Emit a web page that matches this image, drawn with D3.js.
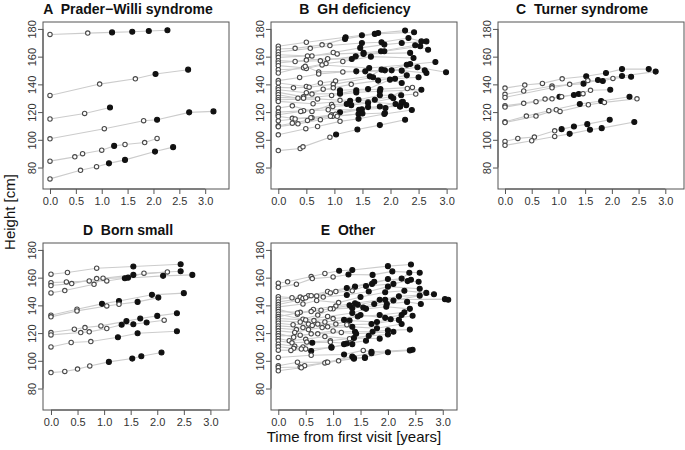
<!DOCTYPE html>
<html>
<head>
<meta charset="utf-8">
<script src="https://cdn.jsdelivr.net/npm/d3@7"></script>
<style>
  body { margin: 0; background: #fff; }
  svg { font-family: "Liberation Sans", Arial, sans-serif; }
</style>
</head>
<body>
<div id="chart"></div>
<script>
// each subject: list of [years from first visit, height cm, filled (1) / open (0)]
const subjectsA = [
  [[0,176,0],[0.73,177,0],[1.2,177.5,1],[1.59,178,1],[1.91,178.5,1],[2.27,179,1]],
  [[0,132,0],[0.96,140.2,0],[1.65,144,0],[2.04,147.5,1],[2.67,150.6,1]],
  [[0,115,0],[0.67,119,0],[1.16,123.3,1]],
  [[0,100.7,0],[1.05,108,0],[1.81,113.8,0],[2.07,114.5,1],[2.69,119.8,1],[3.16,120.5,1]],
  [[0,84.6,0],[0.48,87.7,0],[0.63,90,0],[1.0,92.5,0],[1.24,95.6,1],[1.45,96.6,0],[1.83,98,0],[2.07,101,0]],
  [[0,71.8,0],[0.59,78,0],[0.9,80.6,0],[1.14,83,1],[1.45,85.5,1],[2.03,91.5,1],[2.38,94.7,1]]
];

const subjectsB = [
  [[0,167.5,0],[0.5,170.4,0],[1.2,174,1],[1.49,175.4,1],[1.78,177.1,1],[2.26,178.8,1]],
  [[0,165.5,0],[0.3,166,0],[0.78,168.5,0],[1.19,172.8,1],[1.72,176.4,1],[2.42,177.6,1]],
  [[0,163.4,0],[0.57,166,0],[0.92,168,0],[1.49,169.9,1],[1.84,170.4,1],[2.32,173.5,1],[2.55,171,1]],
  [[0,161.4,0],[0.6,160.5,0],[0.98,163,0],[1.46,166.3,1],[1.89,168.7,1],[2.2,169.9,1],[2.64,171,1]],
  [[0,159.5,0],[0.52,160.5,0],[1.05,162,0],[1.52,162.7,1],[1.83,163.9,1],[2.44,168.2,1],[2.67,165,1]],
  [[0,157.1,0],[0.3,156.5,0],[0.75,157,0],[1.38,160.2,1],[1.89,163.9,1],[2.53,167.5,1]],
  [[0,155.4,0],[0.5,157.5,0],[0.88,158.5,0],[1.31,158.3,1],[1.52,162,1],[2.35,162.7,1]],
  [[0,153.5,0],[0.45,152,0],[0.85,155,0],[1.15,156.5,0],[1.65,160,1],[2.41,159,1]],
  [[0,150.6,0],[0.5,151.5,0],[0.78,154,0],[1.62,151.8,1],[2.29,154.2,1],[2.8,156.1,1]],
  [[0,148.2,0],[0.48,153,0],[0.72,149,0],[1.39,149.4,1],[1.9,150.1,1],[2.35,154.7,1],[2.61,150.1,1]],
  [[0,142.7,0],[0.38,145,0],[0.72,147.5,0],[1.15,149,0],[1.55,149.4,1],[2.02,150.1,1],[2.48,152.3,1],[2.99,148.7,1]],
  [[0,141,0],[0.5,138.5,0],[0.75,141,0],[1.02,142.5,0],[1.63,145.8,1],[1.84,150.6,1],[2.2,149.9,1],[2.64,148.2,1]],
  [[0,137.8,0],[0.27,137.5,0],[0.55,138,0],[0.98,140,0],[1.69,145.1,1],[2.08,144.1,1],[2.5,145.1,1]],
  [[0,136.1,0],[0.5,134,0],[0.98,137.5,0],[1.3,140,0],[1.78,142.7,1],[2.29,146.5,1]],
  [[0,134.2,0],[0.45,131,0],[0.8,136.5,0],[1.1,135.7,1],[1.6,136.6,1],[1.99,143.4,1],[2.2,141,1]],
  [[0,132.5,0],[0.35,130,0],[0.6,133,0],[1.1,133.3,1],[1.39,135.7,1],[1.82,136.6,1],[2.39,137.8,0]],
  [[0,130.6,0],[0.45,130,0],[0.95,132,0],[1.39,134.2,1],[1.81,135,1],[2.55,136.1,1]],
  [[0,128.9,0],[0.7,129.5,0],[1.1,128.5,0],[1.43,128.9,1],[1.81,132.1,1],[2.19,132.1,1],[2.45,133,0]],
  [[0,127.7,0],[0.62,126,0],[1.28,128.2,1],[1.72,128.9,1],[2.01,131.2,1],[2.3,137,0]],
  [[0,122.9,0],[0.25,124.5,0],[0.6,120.5,0],[0.95,125.5,0],[1.22,125.8,1],[1.6,127.5,0],[2.09,125.8,1],[2.17,124.1,1]],
  [[0,120,0],[0.45,121,0],[0.97,124,0],[1.3,125,1],[1.6,126.5,1],[2.05,130,1]],
  [[0,118.1,0],[0.4,120.5,0],[0.89,121.7,0],[1.44,121.7,1],[1.91,123,1],[2.2,127,1]],
  [[0,116.9,0],[0.25,115.5,0],[0.6,116,0],[0.95,118,0],[1.1,119.8,1],[1.6,123.6,1],[2.17,124.1,1]],
  [[0,113.7,0],[0.3,115,0],[0.58,116,0],[0.97,117,0],[1.43,118.6,1],[1.9,119.3,1]],
  [[0,110.1,0],[0.25,112,0],[0.52,114,0],[0.93,117,0],[1.02,118.5,0],[1.49,122,1],[1.81,124,1],[2.22,127.5,1],[2.28,125,1]],
  [[0,109.5,0],[0.35,111.5,0],[0.75,114.5,0],[1.05,117,0],[1.5,119,1]],
  [[0,103.6,0],[0.49,108,0],[0.7,109.6,0],[1.1,113.3,0],[1.43,115.2,1],[1.89,118.6,1],[2.38,121.5,1]],
  [[0,92.2,0],[0.39,93.7,0],[0.44,94.9,0],[0.92,101.9,0],[1.03,103.8,1],[1.41,107.4,1],[1.81,110.6,1],[2.26,114.5,1]]
];

const subjectsC = [
  [[0,137.3,0],[0.37,139.5,0],[0.70,140.7,0],[1.07,144,0],[1.52,145.8,1],[1.89,148.2,1],[2.19,151,1],[2.69,151,1]],
  [[0,132.8,0],[0.35,135.2,0],[0.88,138.8,0],[1.47,140.5,1],[1.74,143.1,1],[2.19,146,1],[2.82,149.2,1]],
  [[0,130.6,0],[0.88,137.5,0],[1.21,140,0],[1.55,142.7,0],[1.83,142.4,1],[2.02,144.3,0],[2.36,145.5,1]],
  [[0,124.6,0],[0.35,126.3,0],[0.75,129.4,0],[1.02,131.1,1],[1.38,133,1],[1.6,135.7,0],[1.97,136.1,1]],
  [[0,123.6,0],[0.58,127.5,0],[0.88,129.6,0],[1.06,131.1,0],[1.29,132.3,1],[1.46,133.3,0]],
  [[0,113,0],[0.40,117.1,0],[0.82,121,0],[1.40,125.8,1],[1.8,128,1],[2.33,131.1,1]],
  [[0,112.5,0],[0.58,117.1,0],[0.96,121.7,0],[1.03,120.5,0],[1.56,125.3,0],[1.86,127,0],[2.47,129.6,0]],
  [[0,98.8,0],[0.24,101,0],[0.55,102,0],[0.93,106.5,0],[1.06,107.7,1],[1.29,109.6,1],[1.54,111.3,1],[1.96,114.5,1]],
  [[0,96,0],[0.5,99.3,0],[0.93,102.4,0],[1.21,104.3,1],[1.59,107.2,1],[1.81,108.4,1],[2.42,112.8,1]]
];

const subjectsD = [
  [[0,162.5,0],[0.31,163.7,0],[0.86,166.8,0],[1.55,168,1],[2.44,169.7,1]],
  [[0,156.4,0],[0.29,156.9,0],[0.72,157.6,0],[1.05,157.6,0],[1.39,159.6,1],[2.11,161.3,1],[2.66,162,1]],
  [[0,154.3,0],[0.39,155.7,0],[0.86,159.3,0],[1.45,160,1],[1.75,163.2,0],[2.44,164.6,1]],
  [[0,149,0],[0.26,150.7,0],[0.81,155.2,0],[0.98,159.6,0],[1.55,162,1],[2.19,164.1,0]],
  [[0,132.9,0],[0.49,137.2,0],[0.96,141.1,1],[1.28,143.2,1],[1.9,147.6,1],[2.5,148.8,1]],
  [[0,131.7,0],[0.49,136,0],[1.05,139.6,0],[1.28,140.8,0],[1.63,142.5,1],[2.02,145.6,1]],
  [[0,120.4,0],[0.44,122.8,0],[0.64,124,0],[0.94,125.2,0],[1.42,128.6,1],[1.68,130.5,1],[2.0,132.4,1],[2.37,134.3,1]],
  [[0,118.7,0],[0.56,120.4,0],[0.72,120.9,0],[1.05,123.3,0],[1.33,126,1],[1.55,126.4,1],[1.8,127.6,1],[2.13,129.3,0]],
  [[0,110,0],[0.38,113.2,0],[0.75,113.9,0],[1.26,117,1],[1.63,119.9,1],[2.37,121.3,1]],
  [[0,91.5,0],[0.26,92.3,0],[0.5,94,0],[0.73,96.3,0],[1.09,99.2,1],[1.53,101.6,1],[1.7,103.3,1],[2.08,106,1]]
];

const subjectsE = [
  [[0,156,0],[0.17,157,0],[0.6,160.8,0],[0.85,163,0],[1.11,165,1],[1.35,165.5,1],[2.0,168.3,1],[2.42,169.5,1]],
  [[0,153,0],[0.33,155.3,0],[0.62,159.3,0],[1.0,160.5,0],[1.28,162.3,1],[1.72,162,1],[2.08,164.5,1],[2.58,163.5,1]],
  [[0,146.3,0],[0.25,145.5,0],[0.55,147,0],[0.9,150,0],[1.25,152.5,1],[1.75,157,1],[2.25,159.3,1],[2.39,163.5,1]],
  [[0,144.4,0],[0.4,146,0],[0.7,146.8,0],[1.05,150,0],[1.4,153.5,1],[1.71,155.5,1],[2.0,159,1],[2.36,157.5,1],[2.56,157,1]],
  [[0,142.5,0],[0.45,145,0],[0.6,147,0],[0.95,149,0],[1.35,150.5,0],[1.6,154,1],[2.1,155.5,1],[2.42,158.5,1]],
  [[0,140.6,0],[0.35,143.5,0],[0.5,145.5,0],[0.82,146,0],[1.25,147.5,1],[1.65,150,1],[2.0,153.5,1],[2.58,152,1]],
  [[0,138.9,0],[0.45,141,0],[0.7,143.5,0],[1.1,142,0],[1.5,146,1],[1.95,149.5,1],[2.3,150.5,1],[2.7,149,1]],
  [[0,137.2,0],[0.35,133.5,0],[0.64,137,0],[1.05,139.5,0],[1.4,141.5,1],[1.85,144,1],[2.2,146.5,1],[2.84,148,1]],
  [[0,135.5,0],[0.4,135,0],[0.78,136.5,0],[1.3,140,1],[1.45,140.5,1],[1.95,144,1],[3.04,144.5,1],[3.1,144,1]],
  [[0,133.6,0],[0.45,130,0],[0.72,133,0],[1.0,137.5,0],[1.35,138,1],[1.75,141,1],[2.1,143.5,1],[2.58,147,1]],
  [[0,131.9,0],[0.35,134.5,0],[0.6,135.5,0],[0.95,137.5,0],[1.55,138.5,1],[1.98,141,1],[2.35,142.5,1],[2.6,141,1]],
  [[0,130.5,0],[0.5,129.5,0],[0.9,132,0],[1.35,134.5,1],[1.6,137.5,1],[1.97,139,1],[2.4,137.5,1]],
  [[0,128.8,0],[0.4,128,0],[0.65,129,0],[1.0,130.5,0],[1.45,132,1],[1.85,133,1],[2.3,135,1]],
  [[0,127.1,0],[0.27,126,0],[0.55,126.5,0],[0.85,128,0],[1.2,129.5,1],[1.5,133,1],[1.95,131,1],[2.25,133,1]],
  [[0,125.2,0],[0.45,124,0],[0.72,126.5,0],[1.05,126.5,0],[1.3,129,1],[1.8,128,1],[2.05,130,1],[2.45,132.5,1]],
  [[0,123.5,0],[0.33,122.5,0],[0.62,125.5,0],[0.9,124.5,0],[1.25,126,0],[1.7,126.5,1],[2.2,129.5,1]],
  [[0,121.6,0],[0.3,120.5,0],[0.55,122.5,0],[0.8,124,0],[1.35,124.5,1],[1.8,123.5,1],[2.25,126.5,1]],
  [[0,119.7,0],[0.28,117,0],[0.6,119.5,0],[1.0,121.5,0],[1.4,121,1],[1.72,121,1],[2.0,122,1],[2.4,122.5,1]],
  [[0,118,0],[0.4,118.5,0],[0.72,119.5,0],[1.15,120.5,0],[1.42,119.5,1],[2.1,121,1]],
  [[0,116.1,0],[0.2,114.5,0],[0.5,115.5,0],[0.85,117.5,0],[1.3,116,0],[1.65,118,1],[2.0,119,1]],
  [[0,114.4,0],[0.25,113,0],[0.52,113.5,0],[0.95,114.5,0],[1.38,116.5,1],[1.85,116,1]],
  [[0,112,0],[0.3,110.5,0],[0.45,110,0],[0.62,113,1],[0.95,113.5,0],[1.25,112.5,1],[1.6,114.5,1]],
  [[0,110.1,0],[0.28,109,0],[0.42,108.5,0],[0.6,107,1],[0.97,110,1],[1.35,112,1]],
  [[0,107.7,0],[0.23,107.5,0],[0.5,108.5,0],[0.97,109.5,1],[1.2,112,1]],
  [[0,102.4,0],[0.6,104,0],[1.2,104.5,1],[1.55,107.5,0],[1.7,106.5,1],[2.45,108,1]],
  [[0,96.4,0],[0.35,99,0],[0.88,99,0],[1.35,103,1],[1.7,105.5,1],[2.4,107.5,1]],
  [[0,95.2,0],[0.4,95.5,0],[0.48,96.5,0],[0.85,98.5,0],[1.1,100,0],[1.38,102,1],[1.58,102.5,1],[2.0,106.2,1]],
  [[0,92.8,0],[0.42,95,0],[0.9,99,0],[1.38,101.5,1],[1.58,102,1]]
];

const panelTitles = ["A  Prader\u2212Willi syndrome", "B  GH deficiency", "C  Turner syndrome", "D  Born small", "E  Other"];
const panelData = [subjectsA, subjectsB, subjectsC, subjectsD, subjectsE];
const xTicks = [0, 0.5, 1, 1.5, 2, 2.5, 3];
const yTicks = [80, 100, 120, 140, 160, 180];

const W = 685, H = 450;
const boxW = 186, boxH = 167;
const boxPos = [[43, 22], [271, 22], [498, 22], [43, 243], [271, 243]];
const titleX = [128, 355, 582, 128, 348];
// each panel has its own time range
const xDomains = [[-0.135, 3.46], [-0.13, 3.185], [-0.131, 3.35], [-0.15, 3.35], [-0.133, 3.26]];

const y = d3.scaleLinear().domain([64.5, 185]).range([boxH, 0]);

const svg = d3.select("#chart").append("svg")
  .attr("width", W).attr("height", H);
svg.append("rect").attr("width", W).attr("height", H).attr("fill", "#fff");

panelData.forEach((subjects, i) => {
  const x = d3.scaleLinear().domain(xDomains[i]).range([0, boxW]);
  const line = d3.line().x(d => x(d[0])).y(d => y(d[1]));

  const g = svg.append("g")
    .attr("transform", `translate(${boxPos[i][0]},${boxPos[i][1]})`);

  g.selectAll("path.subj")
    .data(subjects)
    .enter().append("path")
    .attr("class", "subj")
    .attr("d", line)
    .attr("fill", "none")
    .attr("stroke", "#cccccc")
    .attr("stroke-width", 1.1);

  const pts = subjects.flat();
  g.selectAll("circle")
    .data(pts)
    .enter().append("circle")
    .attr("cx", d => x(d[0]))
    .attr("cy", d => y(d[1]))
    .attr("r", d => d[2] ? 2.5 : 2.2)
    .attr("fill", d => d[2] ? "#111" : "#fff")
    .attr("stroke", d => d[2] ? "#111" : "#4a4a4a")
    .attr("stroke-width", 1.1);

  g.append("rect")
    .attr("width", boxW).attr("height", boxH)
    .attr("fill", "none")
    .attr("stroke", "#555")
    .attr("stroke-width", 1);

  const xAxis = d3.axisBottom(x).tickValues(xTicks)
    .tickFormat(d3.format(".1f")).tickSize(5).tickSizeOuter(0);
  g.append("g")
    .attr("transform", `translate(0,${boxH})`)
    .call(xAxis)
    .call(a => a.select(".domain").attr("d", `M${x(0)},0H${x(3)}`).attr("stroke", "#555"))
    .call(a => a.selectAll(".tick line").attr("stroke", "#555"))
    .call(a => a.selectAll(".tick text").attr("fill", "#333").style("font-size", "11px"));

  const yAxis = d3.axisLeft(y).tickValues(yTicks).tickSize(5).tickSizeOuter(0);
  g.append("g")
    .call(yAxis)
    .call(a => a.select(".domain").attr("d", `M0,${y(80)}V${y(180)}`).attr("stroke", "#555"))
    .call(a => a.selectAll(".tick line").attr("stroke", "#555"))
    .call(a => a.selectAll(".tick text")
      .attr("transform", "rotate(-90)")
      .attr("x", 0).attr("y", -7).attr("dy", "0")
      .attr("text-anchor", "middle")
      .attr("fill", "#333").style("font-size", "11px"));

  svg.append("text")
    .attr("x", titleX[i])
    .attr("y", boxPos[i][1] - 8)
    .attr("text-anchor", "middle")
    .style("white-space", "pre")
    .style("font-size", "14px")
    .style("font-weight", "bold")
    .attr("fill", "#111")
    .text(panelTitles[i]);
});

svg.append("text")
  .attr("transform", "translate(15,212) rotate(-90)")
  .attr("text-anchor", "middle")
  .style("font-size", "15px")
  .attr("fill", "#111")
  .text("Height [cm]");

svg.append("text")
  .attr("x", 354).attr("y", 442)
  .attr("text-anchor", "middle")
  .style("font-size", "15px")
  .attr("fill", "#111")
  .text("Time from first visit [years]");
</script>
</body>
</html>
